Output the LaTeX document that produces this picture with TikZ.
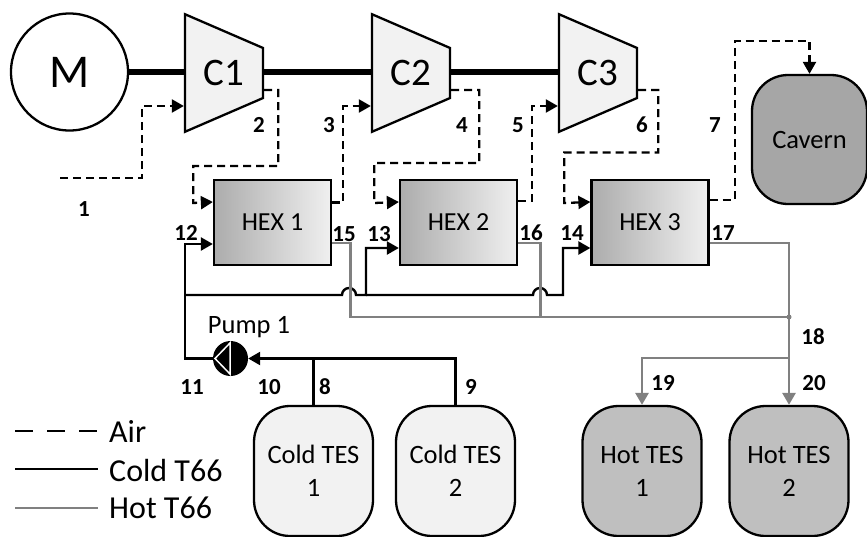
\documentclass[tikz,border=0pt]{standalone}
\usepackage{fontspec}
\setmainfont{Carlito}
\usetikzlibrary{arrows.meta, shapes.geometric}

\begin{document}
\begin{tikzpicture}[
  x=1pt, y=-1pt,
  comp/.style={draw, line width=2.3pt, fill=gray!10, trapezium, trapezium angle=67, trapezium stretches=true, shape border rotate=270, minimum width=118pt, minimum height=78pt, inner sep=0pt, font=\fontsize{39}{39}\selectfont},
  hex/.style={draw, line width=2.3pt, left color=gray!65, right color=gray!12, minimum width=117pt, minimum height=85pt, inner sep=0pt, font=\fontsize{26}{26}\selectfont},
  tank/.style={draw, line width=2.3pt, rounded corners=36pt, minimum width=119pt, minimum height=130pt, inner sep=0pt, align=center, font=\fontsize{26.5}{33}\selectfont},
  num/.style={font=\fontsize{23}{23}\selectfont\bfseries, inner sep=0pt},
  legtxt/.style={font=\fontsize{32}{32}\selectfont, anchor=west, inner sep=0pt},
  tip/.style={-{Triangle[length=12pt, width=13pt]}},
  shaft/.style={line width=6pt},
  air/.style={line width=2.3pt, dash pattern=on 8pt off 5pt},
  cold/.style={line width=2.4pt},
  hot/.style={line width=2.8pt, draw=gray}
]
  \useasboundingbox (0,0) rectangle (867,536);

  % Motor and compressors
  \node[draw, circle, line width=2.3pt, minimum size=117pt, inner sep=0pt, font=\fontsize{47}{47}\selectfont] (motor) at (69.5,72) {M};
  \node[comp] (c1) at (224,73) {C1};
  \node[comp] (c2) at (411,73) {C2};
  \node[comp] (c3) at (598,73) {C3};

  % Heat exchangers
  \node[hex] (hex1) at (272.5,222.5) {HEX 1};
  \node[hex] (hex2) at (458.5,222.5) {HEX 2};
  \node[hex] (hex3) at (650,222.5) {HEX 3};

  % Storage
  \node[tank, fill=gray!70, minimum width=115pt, minimum height=129pt] (cavern) at (809.5,139.5) {Cavern};
  \node[tank, fill=gray!10] (cold1) at (313.5,471) {Cold TES\\1};
  \node[tank, fill=gray!10] (cold2) at (455.5,471) {Cold TES\\2};
  \node[tank, fill=gray!50] (hot1) at (642,471) {Hot TES\\1};
  \node[tank, fill=gray!50] (hot2) at (789,471) {Hot TES\\2};

  % Pump
  \node[circle, fill=black, minimum size=35pt, inner sep=0pt] (pump) at (230.5,358.5) {};
  \draw[white, line width=1.5pt] (230,343) -- (230,374) -- (215,358.5) -- cycle;
  \node[font=\fontsize{26.5}{26.5}\selectfont, inner sep=0pt] (pumplbl) at (249,327) {Pump 1};

  % Shaft
  \draw[shaft] (motor.east) -- (c1.west |- motor.east);
  \draw[shaft] (c1.east |- motor.east) -- (c2.west |- motor.east);
  \draw[shaft] (c2.east |- motor.east) -- (c3.west |- motor.east);

  % Air path
  \coordinate (airin) at (60,178);
  \draw[air, tip] (airin) -- ++(82,0) |- ([yshift=-33pt]c1.west);
  \draw[air, tip] ([yshift=-17pt]c1.east) -- ++(14,0) -- ++(0,76) -| ++(-85,37) -- ([yshift=20.5pt]hex1.west);
  \draw[air, tip] ([yshift=20pt]hex1.east) -- ++(11,0) |- ([yshift=-33pt]c2.west);
  \draw[air, tip] ([yshift=-17pt]c2.east) -- ++(28,0) -- ++(0,73) -| ++(-105,40) -- ([yshift=20.5pt]hex2.west);
  \draw[air, tip] ([yshift=21.5pt]hex2.east) -- ++(14,0) |- ([yshift=-33pt]c3.west);
  \draw[air, tip] ([yshift=-17pt]c3.east) -- ++(20,0) -- ++(0,62.5) -| ++(-94,50.5) -- ([yshift=20.5pt]hex3.west);
  \draw[air, tip] ([yshift=22.5pt]hex3.east) -- ++(25,0) -- ++(0,-159) -| (cavern.north);

  % Cold loop
  \draw[cold, tip] (cold2.north) |- (pump.east);
  \draw[cold] (cold1.north) -- ++(0,-47);
  \draw[cold, tip] (pump.west) -- ++(-28,0) |- ([yshift=-21.5pt]hex1.west);
  \coordinate (coldhdr) at (185,295);
  \coordinate (coldtee) at (366,295);
  \draw[cold, tip] (coldhdr) -- ++(157,0) arc[start angle=180, end angle=360, radius=7] -- ++(10,0) |- ([yshift=-25.5pt]hex2.west);
  \draw[cold, tip] (coldtee) -- ++(167,0) arc[start angle=180, end angle=360, radius=7] -- ++(16,0) |- ([yshift=-25.5pt]hex3.west);

  % Hot loop
  \coordinate (hotjoin) at (789,317);
  \coordinate (hottee) at (789,358);
  \draw[hot] ([yshift=-20.5pt]hex1.east) -- ++(18,0) |- (hotjoin);
  \draw[hot] ([yshift=-20.5pt]hex2.east) -- ++(22,0) -- ++(0,74);
  \draw[hot, tip] ([yshift=-20.5pt]hex3.east) -| (hot2.north);
  \draw[hot, tip] (hottee) -| (hot1.north);
  \fill[gray] (hotjoin) circle (2.5);

  % Stream numbers
  \node[num] (n1) at (84,209) {1};
  \node[num] (n2) at (259,125) {2};
  \node[num] (n3) at (329,125) {3};
  \node[num] (n4) at (462,125) {4};
  \node[num] (n5) at (518,125) {5};
  \node[num] (n6) at (642,125) {6};
  \node[num] (n7) at (715,125) {7};
  \node[num] (n8) at (325,387) {8};
  \node[num] (n9) at (471,387) {9};
  \node[num] (n10) at (269,387) {10};
  \node[num] (n11) at (192,387) {11};
  \node[num] (n12) at (186,233) {12};
  \node[num] (n13) at (379,234) {13};
  \node[num] (n14) at (572,233) {14};
  \node[num] (n15) at (344,234) {15};
  \node[num] (n16) at (531,233) {16};
  \node[num] (n17) at (723,233) {17};
  \node[num] (n18) at (813,337) {18};
  \node[num] (n19) at (663,383) {19};
  \node[num] (n20) at (814,383) {20};

  % Legend
  \node[legtxt] (airtxt) at (109,431) {Air};
  \node[legtxt] (coldtxt) at (109,470) {Cold T66};
  \node[legtxt] (hottxt) at (109,508) {Hot T66};
  \coordinate (airleg) at (15,431);
  \coordinate (coldleg) at (15,469);
  \coordinate (hotleg) at (15,508);
  \draw[line width=2.4pt, dash pattern=on 18pt off 14pt] (airleg) -- ++(83,0);
  \draw[cold] (coldleg) -- ++(83,0);
  \draw[hot] (hotleg) -- ++(83,0);
\end{tikzpicture}
\end{document}
